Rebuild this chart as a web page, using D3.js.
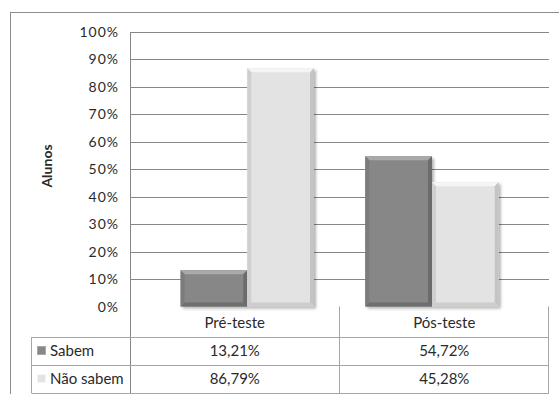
<!DOCTYPE html>
<html>
<head>
<meta charset="utf-8">
<script src="https://cdn.jsdelivr.net/npm/d3@7"></script>
<style>
  body { margin: 0; background: #fff; }
  text { font-family: Lato, "Open Sans", sans-serif; fill: #2a2a2a; }
</style>
</head>
<body>
<div id="chart"></div>
<script>
// chart values
var categories = ["Pré-teste", "Pós-teste"];
var seriesNames = ["Sabem", "Não sabem"];
var sabem = [13.21, 54.72];
var naoSabem = [86.79, 45.28];
var yTicks = [0, 10, 20, 30, 40, 50, 60, 70, 80, 90, 100];

var width = 559, height = 394;

var svg = d3.select("#chart").append("svg")
    .attr("width", width)
    .attr("height", height);

var defs = svg.append("defs");
defs.append("filter").attr("id", "shadow")
    .attr("x", "-20%").attr("y", "-20%").attr("width", "140%").attr("height", "140%")
    .append("feGaussianBlur").attr("stdDeviation", 1.5);

// outer frame (cut off at right/bottom like the picture)
svg.append("rect")
    .attr("x", 10.5).attr("y", 12.5)
    .attr("width", 560).attr("height", 400)
    .attr("fill", "none").attr("stroke", "#8c8c8c");

var plot = {left: 130, right: 549, top: 32, bottom: 306.5};

var y = d3.scaleLinear().domain([0, 100]).range([plot.bottom, plot.top]);

// table columns span the whole plot width
var tableX = d3.scaleBand().domain(categories).range([plot.left, plot.right]);

// bar groups
var groupX = d3.scalePoint().domain(categories).range([247.3, 432]);
var barW = 66.7;
var sub = d3.scaleBand().domain(seriesNames).range([-barW, barW]);

// gridlines (no line at 0%)
svg.append("g").selectAll("line")
    .data(yTicks.filter(function(d){ return d > 0; }))
    .enter().append("line")
    .attr("x1", plot.left).attr("x2", plot.right)
    .attr("y1", function(d){ return Math.round(y(d)) + 0.5; })
    .attr("y2", function(d){ return Math.round(y(d)) + 0.5; })
    .attr("stroke", "#868686");

// tick labels
svg.append("g").selectAll("text")
    .data(yTicks)
    .enter().append("text")
    .attr("x", 119)
    .attr("y", function(d){ return y(d) + 5; })
    .attr("text-anchor", "end")
    .style("font-size", "14px")
    .style("letter-spacing", "1px")
    .text(function(d){ return d + "%"; });

// axis title
svg.append("text")
    .attr("transform", "translate(52,166) rotate(-90)")
    .attr("text-anchor", "middle")
    .style("font-size", "14px")
    .style("font-weight", "bold")
    .text("Alunos");

var styles = {
    "Sabem":     {base: "#878787", top: "#a9a9a9", left: "#7c7c7c", right: "#6c6c6c", bottom: "#6e6e6e"},
    "Não sabem": {base: "#e3e3e3", top: "#f5f5f5", left: "#cfcfcf", right: "#c4c4c4", bottom: "#cdcdcd"}
};

var bars = [];
categories.forEach(function(c, i){
    bars.push({cat: c, series: "Sabem", value: sabem[i]});
    bars.push({cat: c, series: "Não sabem", value: naoSabem[i]});
});

var barG = svg.append("g").selectAll("g")
    .data(bars)
    .enter().append("g");

barG.append("rect")
    .attr("x", function(d){ return groupX(d.cat) + sub(d.series) + 2; })
    .attr("y", function(d){ return y(d.value) + 2; })
    .attr("width", barW)
    .attr("height", function(d){ return y(0) - y(d.value); })
    .attr("fill", "#000").attr("opacity", 0.3)
    .attr("filter", "url(#shadow)");

barG.each(function(d){
    var g = d3.select(this);
    var x0 = groupX(d.cat) + sub(d.series), x1 = x0 + barW;
    var y0 = y(d.value), y1 = y(0);
    var b = 4, s = styles[d.series];
    g.append("rect")
        .attr("x", x0).attr("y", y0)
        .attr("width", barW).attr("height", y1 - y0)
        .attr("fill", s.base);
    var poly = function(pts, fill){
        g.append("polygon")
            .attr("points", pts.map(function(p){ return p.join(","); }).join(" "))
            .attr("fill", fill);
    };
    poly([[x0, y0], [x1, y0], [x1 - b, y0 + b], [x0 + b, y0 + b]], s.top);
    poly([[x0, y0], [x0 + b, y0 + b], [x0 + b, y1 - b], [x0, y1]], s.left);
    poly([[x1, y0], [x1, y1], [x1 - b, y1 - b], [x1 - b, y0 + b]], s.right);
    poly([[x0, y1], [x0 + b, y1 - b], [x1 - b, y1 - b], [x1, y1]], s.bottom);
});

// data table
var rowY = [306.5, 337, 365, 393];
var tableLeft = 31.5;
var lineColor = "#a6a6a6";
var table = svg.append("g");

// vertical plot axis line, through the table
table.append("line")
    .attr("x1", plot.left + 0.5).attr("x2", plot.left + 0.5)
    .attr("y1", plot.top).attr("y2", rowY[3])
    .attr("stroke", "#868686");

// column dividers
table.selectAll("line.col")
    .data(categories)
    .enter().append("line")
    .attr("class", "col")
    .attr("x1", function(d){ return Math.round(tableX(d) + tableX.bandwidth()) - 0.5; })
    .attr("x2", function(d){ return Math.round(tableX(d) + tableX.bandwidth()) - 0.5; })
    .attr("y1", rowY[0]).attr("y2", rowY[3])
    .attr("stroke", lineColor);

// row lines
table.selectAll("line.row")
    .data(rowY.slice(1))
    .enter().append("line")
    .attr("class", "row")
    .attr("x1", tableLeft).attr("x2", plot.right)
    .attr("y1", function(d){ return d + 0.5; })
    .attr("y2", function(d){ return d + 0.5; })
    .attr("stroke", lineColor);

table.append("line")
    .attr("x1", tableLeft).attr("x2", tableLeft)
    .attr("y1", rowY[1]).attr("y2", rowY[3])
    .attr("stroke", lineColor);

// category header
table.selectAll("text.cat")
    .data(categories)
    .enter().append("text")
    .attr("class", "cat")
    .attr("x", function(d){ return tableX(d) + tableX.bandwidth() / 2; })
    .attr("y", 328)
    .attr("text-anchor", "middle")
    .style("font-size", "15px")
    .text(function(d){ return d; });

var ptBR = d3.formatLocale({decimal: ",", thousands: ".", grouping: [3], currency: ["R$", ""]});
var fmt = ptBR.format(".2f");

var rows = [
    {name: "Sabem", values: sabem},
    {name: "Não sabem", values: naoSabem}
];

rows.forEach(function(r, i){
    var cy = (rowY[i + 1] + rowY[i + 2]) / 2;
    var s = styles[r.name];
    table.append("rect")
        .attr("x", 37.5).attr("y", cy - 4.5)
        .attr("width", 8).attr("height", 8)
        .attr("fill", s.base)
        .attr("stroke", s.top);
    table.append("text")
        .attr("x", 50).attr("y", cy + 5)
        .style("font-size", "15px")
        .text(r.name);
    r.values.forEach(function(v, j){
        table.append("text")
            .attr("x", tableX(categories[j]) + tableX.bandwidth() / 2)
            .attr("y", cy + 5)
            .attr("text-anchor", "middle")
            .style("font-size", "15px")
            .text(fmt(v) + "%");
    });
});
</script>
</body>
</html>
